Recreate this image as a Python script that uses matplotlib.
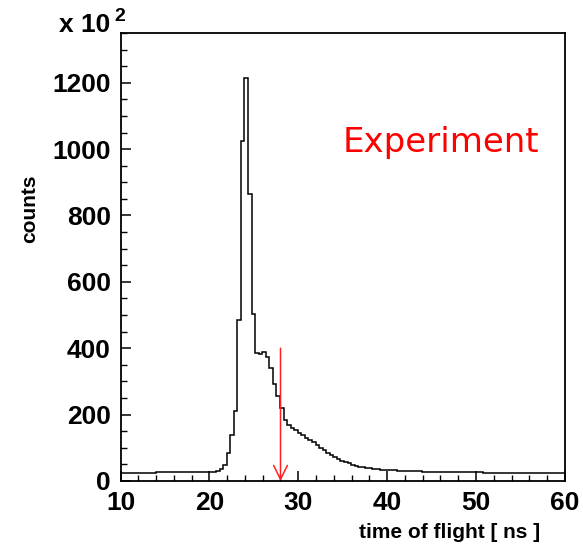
import numpy as np
import matplotlib
matplotlib.use("Agg")
import matplotlib.pyplot as plt
from matplotlib.ticker import MultipleLocator

# time-of-flight histogram, 0.4 ns bins (counts in units of 10^2)
bin_start = 9.95
bin_width = 0.4
counts = [
    25, 25, 25, 25, 25, 25, 25, 25, 25, 25,
    26, 26, 26, 26, 26, 26, 26, 26, 26, 26,
    27, 27, 27, 27, 27, 28, 28, 31, 36, 48,
    85, 139, 212, 484, 1025, 1215, 864, 504, 385, 382,
    390, 374, 340, 292, 255, 219, 185, 170, 160, 153,
    146, 139, 131, 123, 116, 108, 100, 92, 85, 78,
    71, 66, 61, 57, 53, 49, 46, 43, 41, 39,
    38, 37, 35, 34, 33, 33, 32, 32, 31, 31,
    30, 30, 30, 29, 29, 28, 28, 28, 28, 27,
    27, 27, 27, 27, 27, 26, 26, 26, 26, 26,
    26, 26, 25, 25, 25, 25, 25, 25, 25, 25,
    25, 25, 25, 25, 25, 25, 25, 25, 25, 25,
    25, 25, 25, 25, 25, 25,
]
edges = bin_start + bin_width * np.arange(len(counts) + 1)

cut_time = 28.0   # red arrow position
cut_top = 400

fig = plt.figure(figsize=(5.83, 5.47), dpi=100)
ax = fig.add_axes([0.2067, 0.1207, 0.7623, 0.819])

ax.stairs(counts, edges, color="black", lw=1.1)

ax.annotate("", xy=(cut_time, 0), xytext=(cut_time, cut_top),
            arrowprops=dict(arrowstyle="->,head_length=1.0,head_width=0.5",
                            color="#ff2020", lw=1.1, shrinkA=0, shrinkB=0))

ax.set_xlim(10, 60)
ax.set_ylim(0, 1350)
ax.xaxis.set_major_locator(MultipleLocator(10))
ax.xaxis.set_minor_locator(MultipleLocator(2))
ax.yaxis.set_major_locator(MultipleLocator(200))
ax.yaxis.set_minor_locator(MultipleLocator(50))
ax.tick_params(which="both", direction="in", top=False, right=False)
ax.tick_params(which="major", length=7, width=1.1)
ax.tick_params(which="minor", length=4, width=1.0)
ax.tick_params(axis="x", pad=7)
ax.tick_params(axis="y", pad=7)
for lab in ax.get_xticklabels() + ax.get_yticklabels():
    lab.set_fontfamily("Liberation Sans")
    lab.set_fontweight("bold")
    lab.set_fontsize(19)
for sp in ax.spines.values():
    sp.set_linewidth(1.3)

fig.text(0.926, 0.027, "time of flight [ ns ]", ha="right", va="center",
         fontsize=15, fontweight="bold", family="Liberation Sans")
fig.text(0.05, 0.618, "counts", rotation=90, ha="center", va="center",
         fontsize=15, fontweight="bold", family="Liberation Sans")
fig.text(0.189, 0.9415, "x 10", ha="right", va="baseline",
         fontsize=19, fontweight="bold", family="Liberation Sans")
fig.text(0.197, 0.962, "2", ha="left", va="baseline",
         fontsize=14, fontweight="bold", family="Liberation Sans")

fig.text(0.757, 0.722, "Experiment", ha="center", va="baseline",
         fontsize=24.5, color="red", family="DejaVu Sans")

fig.savefig("out.png", dpi=100)
